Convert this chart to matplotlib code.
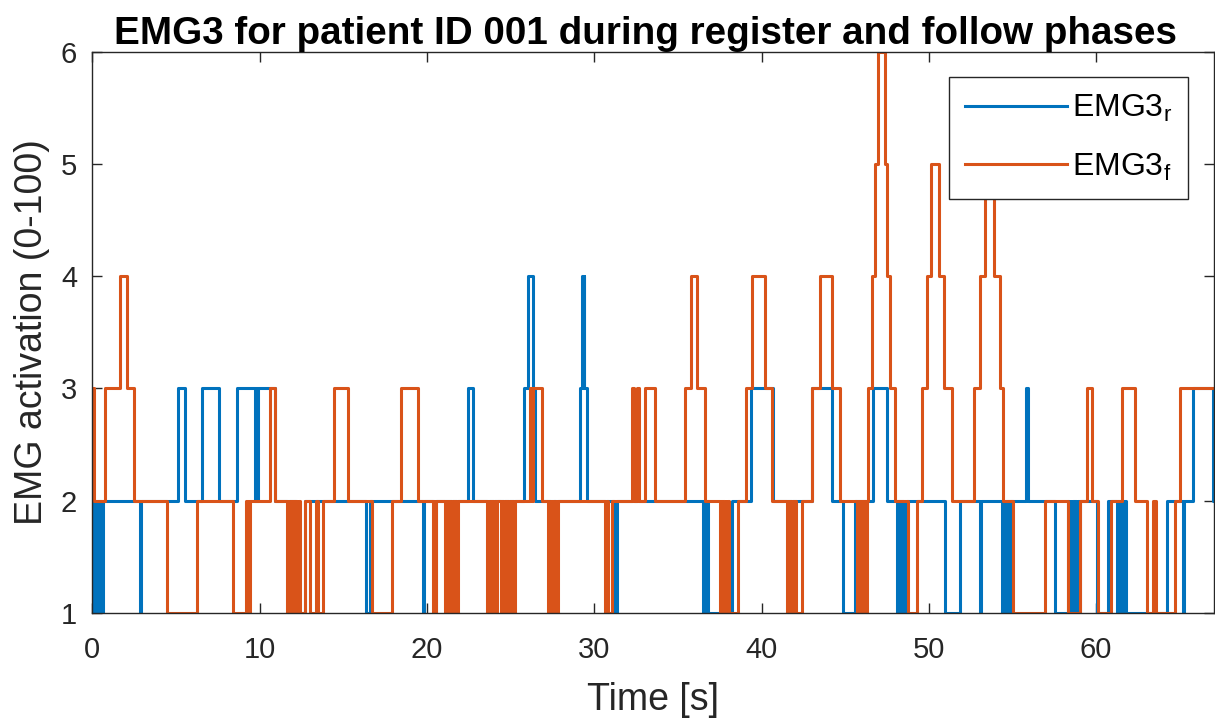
import numpy as np
import matplotlib
matplotlib.use("Agg")
import matplotlib.pyplot as plt

plt.rcParams['font.family'] = ['Liberation Sans', 'DejaVu Sans']

# EMG3 register phase (r): change times [s] and levels
t_r = [0.00, 0.05, 0.10, 0.15, 0.20, 0.25, 0.30, 0.35, 0.40, 0.45, 0.50, 0.55, 0.60, 0.65, 0.70,
       2.82, 2.88, 5.14, 5.54, 6.58, 7.59, 8.65, 9.73, 9.78, 9.83, 9.88, 10.92,
       12.20, 12.70, 16.34, 16.60, 19.75, 19.80, 20.50, 20.55,
       22.47, 22.77, 25.80, 26.02, 26.36, 26.46,
       29.15, 29.29, 29.33, 29.37, 29.40, 29.58, 31.20, 31.35,
       36.52, 36.60, 36.65, 36.72, 36.77, 38.26, 39.35, 40.71, 42.99, 44.20,
       44.89, 45.60, 46.68, 47.48,
       48.08, 48.15, 48.20, 48.28, 48.33, 48.40, 48.45, 48.55, 48.60, 48.68,
       50.97, 51.86, 53.06, 53.14,
       54.36, 54.45, 54.50, 54.60, 54.65, 54.75, 54.80, 54.85,
       55.82, 55.90, 57.54,
       58.34, 58.40, 58.47, 58.52, 58.60, 58.65, 58.75, 58.80, 58.90, 58.95, 59.04,
       60.04, 60.73,
       61.23, 61.30, 61.35, 61.45, 61.50, 61.60, 61.65, 61.75, 61.80,
       64.22, 65.22, 65.28, 65.81, 67.00, 67.06]
v_r = [1, 2, 1, 2, 1, 2, 1, 2, 1, 2, 1, 2, 1, 2, 2,
       1, 2, 3, 2, 3, 2, 3, 2, 3, 2, 3, 2,
       1, 2, 1, 2, 1, 2, 1, 2,
       3, 2, 3, 4, 3, 2,
       3, 4, 3, 4, 3, 2, 1, 2,
       1, 2, 1, 2, 1, 2, 3, 2, 3, 2,
       1, 2, 3, 2,
       1, 2, 1, 2, 1, 2, 1, 2, 1, 2,
       1, 2, 1, 2,
       1, 2, 1, 2, 1, 2, 1, 2,
       3, 2, 1,
       2, 1, 2, 1, 2, 1, 2, 1, 2, 1, 2,
       1, 2,
       1, 2, 1, 2, 1, 2, 1, 2, 1,
       2, 1, 2, 3, 2, 2]

# EMG3 follow phase (f)
t_f = [0.00, 0.10, 0.76, 1.66, 2.05, 2.49, 4.45, 6.24, 8.43, 9.20, 9.25, 9.32, 9.37, 9.45, 10.62, 10.92,
       11.62, 11.67, 11.72, 11.80, 11.85, 11.93, 11.98, 12.05, 12.10, 12.20, 12.25, 12.35, 12.41,
       12.71, 13.00, 13.35, 13.50, 13.80, 14.47, 15.30,
       16.70, 17.93, 18.45, 19.45, 20.35, 20.40, 20.45, 20.55,
       21.08, 21.13, 21.18, 21.25, 21.30, 21.40, 21.45, 21.55, 21.60, 21.70, 21.75, 21.88,
       23.57, 23.62, 23.67, 23.75, 23.80, 23.90, 23.95, 24.05, 24.10, 24.20, 24.27,
       24.41, 24.50, 24.55, 24.65, 24.70, 24.80, 24.85, 24.95, 25.00, 25.10, 25.15, 25.27,
       26.16, 26.25, 26.33, 26.90,
       27.25, 27.32, 27.37, 27.45, 27.50, 27.60, 27.65, 27.75, 27.80, 27.86,
       30.65, 30.75, 30.80, 31.05,
       32.24, 32.40, 32.55, 32.70, 33.04, 33.63,
       35.43, 35.79, 36.12, 36.62,
       37.52, 37.58, 37.62, 37.70, 37.75, 37.85, 37.90, 38.00, 38.05, 38.57,
       39.05, 39.41, 40.21, 40.60,
       41.51, 41.58, 41.63, 41.72, 41.77, 41.86, 41.91, 42.00, 42.05, 42.40,
       42.99, 43.50, 44.20, 44.69,
       45.69, 45.75, 45.80, 45.88, 45.93, 46.02, 46.07, 46.15, 46.20, 46.29,
       46.39, 46.59, 46.78, 46.98, 47.38, 47.50, 47.68, 47.98,
       48.77, 49.28, 49.60, 49.87, 50.13, 50.60, 50.90, 51.40,
       52.72, 53.06, 53.36, 53.92, 54.26, 54.46,
       55.05, 56.95, 58.34, 59.04, 59.44, 59.74, 60.10, 60.90, 61.53, 62.33,
       63.02, 63.40, 63.55, 64.72, 65.02, 67.06]
v_f = [3, 2, 3, 4, 3, 2, 1, 2, 1, 2, 1, 2, 1, 2, 3, 2,
       1, 2, 1, 2, 1, 2, 1, 2, 1, 2, 1, 2, 1,
       2, 1, 2, 1, 2, 3, 2,
       1, 2, 3, 2, 1, 2, 1, 2,
       1, 2, 1, 2, 1, 2, 1, 2, 1, 2, 1, 2,
       1, 2, 1, 2, 1, 2, 1, 2, 1, 2, 2,
       1, 2, 1, 2, 1, 2, 1, 2, 1, 2, 1, 2,
       3, 2, 3, 2,
       1, 2, 1, 2, 1, 2, 1, 2, 1, 2,
       1, 2, 1, 2,
       3, 2, 3, 2, 3, 2,
       3, 4, 3, 2,
       1, 2, 1, 2, 1, 2, 1, 2, 1, 2,
       3, 4, 3, 2,
       1, 2, 1, 2, 1, 2, 1, 2, 1, 2,
       3, 4, 3, 2,
       1, 2, 1, 2, 1, 2, 1, 2, 1, 2,
       3, 4, 5, 6, 5, 4, 3, 2,
       1, 2, 3, 4, 5, 4, 3, 2,
       3, 4, 5, 4, 3, 2,
       1, 2, 1, 2, 3, 2, 1, 2, 3, 2,
       1, 2, 1, 2, 3, 3]

fig = plt.figure(figsize=(12.15, 7.24), dpi=100)
ax = fig.add_axes([0.076, 0.1537, 0.9234, 0.7745])

ax.step(t_r, v_r, where='post', color='#0072BD', lw=2.2, label='EMG3$_\\mathregular{r}$')
ax.step(t_f, v_f, where='post', color='#D95319', lw=2.2, label='EMG3$_\\mathregular{f}$')

ax.set_xlim(0, 67.06)
ax.set_ylim(1, 6)
ax.set_xticks([0, 10, 20, 30, 40, 50, 60])
ax.set_yticks([1, 2, 3, 4, 5, 6])
ax.tick_params(direction='in', length=7, width=1, labelsize=21, colors='#262626',
               top=True, right=True)
ax.tick_params(axis='x', pad=17)
ax.tick_params(axis='y', pad=11)
for s in ax.spines.values():
    s.set_color('#262626')
    s.set_linewidth(1)

ax.set_xlabel('Time [s]', fontsize=27, color='#262626', labelpad=13)
ax.set_ylabel('EMG activation (0-100)', fontsize=27, color='#262626', labelpad=8)
ax.set_title('EMG3 for patient ID 001 during register and follow phases',
             fontsize=27.8, fontweight='bold', pad=6, x=0.4926)

leg = ax.legend(loc='upper right', bbox_to_anchor=(0.9766, 0.9554), fontsize=23,
                frameon=True, fancybox=False, edgecolor='#262626', framealpha=1,
                handlelength=3.2, borderpad=0.5, labelspacing=0.85, borderaxespad=0,
                handletextpad=0.15)
leg.get_frame().set_linewidth(1)

fig.savefig('out.png', dpi=100)
